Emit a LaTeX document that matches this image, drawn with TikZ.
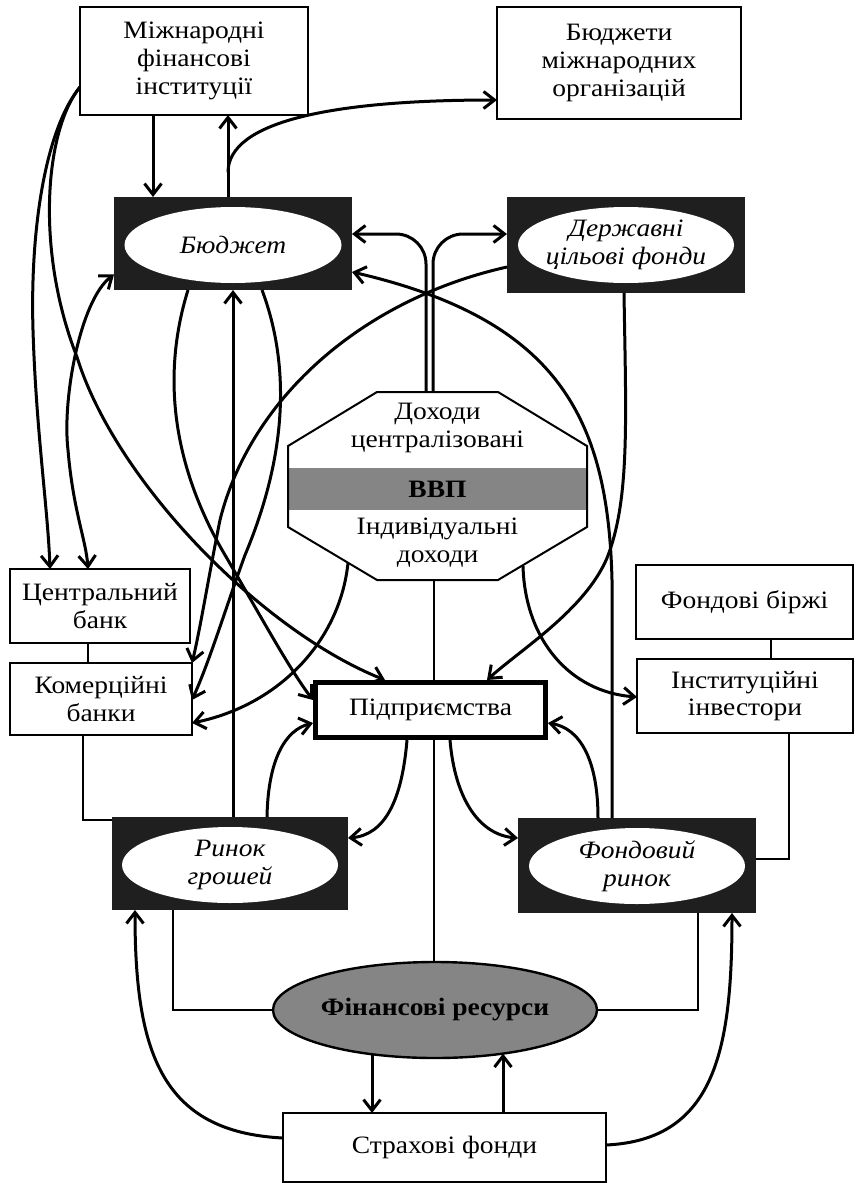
\documentclass[tikz,border=0pt]{standalone}
\usepackage{fontspec}
\setmainfont{Liberation Serif}[FakeStretch=1.1]
\usetikzlibrary{arrows.meta,shapes.geometric}
\newcommand{\labelfont}{\fontsize{25}{27.8}\selectfont}
\begin{document}
\begin{tikzpicture}[x=1pt,y=-1pt,
  every node/.style={font=\labelfont, align=center, inner sep=0pt, outer sep=0pt},
  plainbox/.style={draw, line width=2pt, rectangle, fill=white},
  darkbox/.style={rectangle, fill=black!88},
  oval/.style={ellipse, fill=white, inner xsep=-14pt, inner ysep=-8pt, font=\labelfont\itshape},
  >={Straight Barb[length=11pt,width=17pt]},
  flow/.style={line width=3pt, ->},
  flowboth/.style={line width=3pt, <->},
  link/.style={line width=1.6pt},
]
\useasboundingbox (0,0) rectangle (856,1183);

% ---------- boxes ----------
\node[plainbox, minimum width=228pt, minimum height=108pt] (mfi) at (194,61) {Міжнародні\\фінансові\\інституції};
\node[plainbox, minimum width=244pt, minimum height=112pt] (bmo) at (619,63) {Бюджети\\міжнародних\\організацій};

\node[darkbox, minimum width=238pt, minimum height=93pt] (bud) at (233,243.5) {};
\node[oval, minimum width=217pt, minimum height=76pt] (budE) at (233,245) {Бюджет};
\node[darkbox, minimum width=238pt, minimum height=96pt] (dcf) at (626,245) {};
\node[oval, minimum width=216pt, minimum height=76pt] (dcfE) at (626,245) {Державні\\цільові фонди};

% GDP octagon
\node[minimum width=299pt, minimum height=188pt] (oct) at (437.5,486) {};
\node[fill=black!48, minimum width=299pt, minimum height=42pt, font=\labelfont\bfseries] (gdp) at (437.5,489) {ВВП};
\draw[line width=2pt] (377,392) -- (498,392) -- (587,446) -- (587,527) -- (498,580) -- (377,580) -- (288,527) -- (288,446) -- cycle;
\node (octT) at (437.5,428) {Доходи\\централізовані};
\node (octB) at (437.5,543) {Індивідуальні\\доходи};

\node[plainbox, minimum width=180pt, minimum height=74pt] (cb) at (100,606) {Центральний\\банк};
\node[plainbox, minimum width=182pt, minimum height=72pt] (kb) at (101,699) {Комерційні\\банки};
\node[plainbox, minimum width=217pt, minimum height=74pt] (fb) at (744.5,602) {Фондові біржі};
\node[plainbox, minimum width=216pt, minimum height=74pt] (ii) at (745,696) {Інституційні\\інвестори};

\node[draw, line width=5pt, fill=white, outer sep=2.5pt, minimum width=230pt, minimum height=55pt] (pid) at (430.5,710) {Підприємства};

\node[darkbox, minimum width=236pt, minimum height=93pt] (rg) at (230,863.5) {};
\node[oval, minimum width=216pt, minimum height=76pt] (rgE) at (230,865) {Ринок\\грошей};
\node[darkbox, minimum width=238pt, minimum height=95pt] (fr) at (637,865.5) {};
\node[oval, minimum width=216pt, minimum height=76pt] (frE) at (637,866) {Фондовий\\ринок};

\node[ellipse, draw, line width=2.4pt, fill=black!48, minimum width=324pt, minimum height=96pt, font=\labelfont\bfseries] (res) at (435,1010) {Фінансові ресурси};
\node[plainbox, minimum width=323pt, minimum height=69pt] (sf) at (444.5,1147.5) {Страхові фонди};

% ---------- thin structural links ----------
\draw[link] ([xshift=-12pt]cb.south) -- ([xshift=-13pt]kb.north);
\draw[link] ([xshift=-18pt]kb.south) |- ([yshift=43.5pt]rg.west);
\draw[link] ([xshift=26.5pt]fb.south) -- ([xshift=26pt]ii.north);
\draw[link] ([xshift=44pt]ii.south) |- ([yshift=6.5pt]fr.east);
\draw[link] (res.west) -| ([xshift=-57pt]rg.south);
\draw[link] (res.east) -| ([xshift=61pt]fr.south);
\draw[link] ([xshift=-3.5pt]oct.south) -- ([xshift=3.5pt]pid.north);
\draw[link] ([xshift=3.5pt]pid.south) -- ([xshift=-1pt]res.north);

% ---------- flows ----------
\draw[flow] ([xshift=-41pt]mfi.south) -- ([xshift=-80pt]bud.north);
\draw[flow] ([xshift=-5pt]bud.north) -- ([xshift=34pt]mfi.south) coordinate[pos=0.3] (split);
\draw[flow] (split) .. controls (228,122) and (330,100) .. ([yshift=-37pt]bmo.west);

\draw[flow] ([yshift=-26pt]mfi.west) .. controls (45,130) and (30,230) .. (33,330)
  .. controls (36,430) and (48,510) .. ([xshift=-50pt]cb.north);
\draw[flow] ([yshift=-26pt]mfi.west) .. controls (45,130) and (35,250) .. (77,357)
  .. controls (115,480) and (260,630) .. ([xshift=-45.5pt]pid.north);

\draw[flowboth] ([yshift=-31pt]bud.west) .. controls (80,300) and (62,400) .. (68,450)
  .. controls (73,510) and (86,540) .. ([xshift=-12pt]cb.north);

\draw[flow] ([xshift=-45pt]bud.south) .. controls (160,380) and (175,470) .. (225,555)
  .. controls (260,615) and (290,670) .. ([yshift=10pt]pid.west);
\draw[flow] ([xshift=29pt]bud.south) .. controls (292,370) and (285,460) .. (245,555)
  .. controls (225,610) and (210,660) .. ([yshift=-1pt]kb.east);
\draw[flow] ([xshift=3pt]rg.north) -- (bud.south);

\draw[flow] ([yshift=-22pt]dcf.west) .. controls (360,300) and (250,400) .. (220,520)
  .. controls (208,580) and (200,630) .. (kb.north east);

\draw[flow, rounded corners=30pt] ([xshift=-11.5pt]oct.north) |- ([yshift=9.5pt]bud.east);
\draw[flow, rounded corners=30pt] ([xshift=-4.5pt]oct.north) |- ([yshift=11pt]dcf.west);

\draw[flow] ([xshift=-25pt]fr.north) -- (612,580) .. controls (608,420) and (560,320) .. ([yshift=-28.5pt]bud.east);
\draw[flow] ([xshift=-2pt]dcf.south) .. controls (626,420) and (630,500) .. (607,558)
  .. controls (585,610) and (520,650) .. ([xshift=56.5pt]pid.north);

\draw[flow] ([xshift=60pt,yshift=17pt]oct.south west) .. controls (340,640) and (280,705) .. ([yshift=-24pt]kb.east);
\draw[flow] ([xshift=-64pt,yshift=14pt]oct.south east) .. controls (525,640) and (570,692) .. ([yshift=-1pt]ii.west);

\draw[flow] ([xshift=37pt]rg.north) .. controls (268,760) and (285,730) .. ([yshift=-13pt]pid.west);
\draw[flow] ([xshift=-23.5pt]pid.south) .. controls (402,800) and (385,835) .. ([yshift=25.5pt]rg.east);
\draw[flow] ([xshift=19.5pt]pid.south) .. controls (455,800) and (480,835) .. ([yshift=27.5pt]fr.west);
\draw[flow] ([xshift=-39pt]fr.north) .. controls (598,760) and (580,728) .. ([yshift=-13pt]pid.east);

\draw[flow] ([xshift=-63pt,yshift=4pt]res.south) -- ([xshift=-72.5pt]sf.north);
\draw[flow] ([xshift=58.5pt]sf.north) -- ([xshift=68pt,yshift=4.4pt]res.south);
\draw[flow] ([yshift=9.5pt]sf.west) .. controls (160,1132) and (135,1050) .. ([xshift=-95pt]rg.south);
\draw[flow] ([yshift=2.5pt]sf.east) .. controls (715,1140) and (732,1050) .. ([xshift=95pt]fr.south);
\end{tikzpicture}
\end{document}
